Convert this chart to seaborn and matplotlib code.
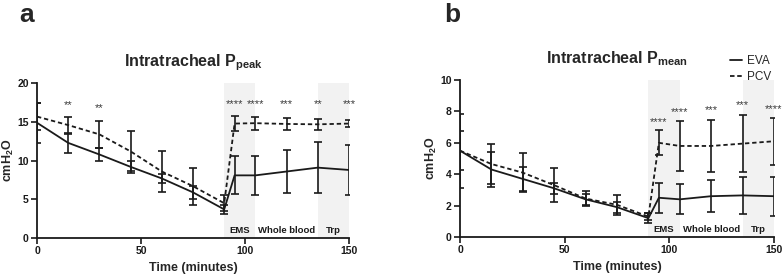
import matplotlib
matplotlib.use("Agg")
import matplotlib.pyplot as plt
import numpy as np
import pandas as pd
import seaborn as sns

# === data ===
time_min = [0, 15, 30, 45, 60, 75, 90, 95, 105, 120, 135, 150]

eva_peak = [14.9, 12.3, 10.8, 9.2, 7.7, 5.9, 3.7, 8.1, 8.1, 8.6, 9.1, 8.8]
eva_peak_sd = [2.6, 1.3, 0.85, 0.75, 0.6, 0.8, 0.6, 2.45, 2.5, 2.75, 3.3, 3.25]
pcv_peak = [15.7, 14.6, 13.4, 11.2, 8.6, 6.7, 4.5, 14.8, 14.85, 14.75, 14.7, 14.8]
pcv_peak_sd = [1.75, 1.1, 1.7, 2.6, 2.6, 2.4, 1.05, 0.95, 0.85, 0.8, 0.7, 0.5]

eva_mean = [5.5, 4.3, 3.7, 3.1, 2.4, 1.9, 1.2, 2.5, 2.4, 2.6, 2.65, 2.6]
eva_mean_sd = [2.35, 1.1, 0.75, 0.35, 0.35, 0.35, 0.3, 0.95, 0.95, 1.0, 1.2, 1.25]
pcv_mean = [5.5, 4.65, 4.1, 3.3, 2.45, 2.05, 1.3, 6.0, 5.8, 5.8, 5.95, 6.1]
pcv_mean_sd = [1.25, 1.3, 1.25, 1.1, 0.5, 0.65, 0.2, 0.8, 1.6, 1.65, 1.8, 1.5]

# significance marks: time, y (baseline), text
stars_peak_t = [15, 30, 95, 105, 120, 135, 150]
stars_peak_y = [16.75, 16.35, 16.9, 16.9, 16.9, 16.9, 16.9]
stars_peak_txt = ['**', '**', '****', '****', '***', '**', '***']

stars_mean_t = [95, 105, 120, 135, 150]
stars_mean_y = [7.1, 7.75, 7.9, 8.2, 7.95]
stars_mean_txt = ['****', '****', '***', '***', '****']

phase_labels = ['EMS', 'Whole blood', 'Trp']
phase_label_x = [97.5, 120, 142.5]
shaded_spans = [(90, 105), (135, 150)]

# === style ===
sns.set_theme(style="ticks")
plt.rcParams['font.family'] = ['Liberation Sans', 'DejaVu Sans']
plt.rcParams['mathtext.fontset'] = 'custom'
plt.rcParams['mathtext.rm'] = 'Liberation Sans'
plt.rcParams['mathtext.bf'] = 'Liberation Sans:bold'

ink = '#1a1a1a'
fig = plt.figure(figsize=(7.83, 2.76), dpi=100)
ax_a = fig.add_axes([0.0473, 0.1377, 0.3984, 0.5603])
ax_b = fig.add_axes([0.5875, 0.1413, 0.4010, 0.5687])


def draw_panel(ax, eva, eva_sd, pcv, pcv_sd, ymax, yticks, st_t, st_y, st_txt, label_y, title):
    df = pd.DataFrame({
        'Time': time_min * 2,
        'Value': eva + pcv,
        'Group': ['EVA'] * len(time_min) + ['PCV'] * len(time_min),
    })
    for x0, x1 in shaded_spans:
        ax.axvspan(x0, x1, ymin=0, ymax=1, color='#f2f2f2', lw=0, zorder=0)

    sns.lineplot(data=df, x='Time', y='Value', style='Group',
                 dashes={'EVA': '', 'PCV': (2.4, 1.6)}, color=ink,
                 linewidth=1.3, ax=ax, legend=False, zorder=3)
    for vals, sd in [(eva, eva_sd), (pcv, pcv_sd)]:
        ax.errorbar(time_min, vals, yerr=sd, fmt='none', ecolor=ink,
                    elinewidth=1.2, capsize=3, capthick=1.2, zorder=4)

    # asterisks, baseline placed so the glyphs sit where the reference shows them
    for t, y, s in zip(st_t, st_y, st_txt):
        ax.text(t, y, s, ha='center', va='baseline', fontsize=8, color='#3a3a3a')
    for x, s in zip(phase_label_x, phase_labels):
        ax.text(x, label_y, s, ha='center', va='center', fontsize=6.8,
                fontweight='bold', color=ink)

    ax.set_xlim(0, 150)
    ax.set_ylim(0, ymax)
    ax.set_xticks([0, 50, 100, 150])
    ax.set_yticks(yticks)
    ax.set_xlabel('Time (minutes)', fontsize=9, fontweight='bold', labelpad=4)
    ax.set_ylabel('cmH$_\\mathbf{2}$O', fontsize=9, fontweight='bold', labelpad=1)
    ax.set_title(title, fontsize=11.5, fontweight='bold', pad=12)
    ax.margins(0)
    ax.tick_params(axis='both', direction='out', length=4, width=1.2,
                   labelsize=7.5, color=ink, labelcolor=ink, pad=2)
    for lab in ax.get_xticklabels() + ax.get_yticklabels():
        lab.set_fontweight('bold')
    sns.despine(ax=ax)
    for side in ['left', 'bottom']:
        ax.spines[side].set_linewidth(1.3)
        ax.spines[side].set_color(ink)


draw_panel(ax_a, eva_peak, eva_peak_sd, pcv_peak, pcv_peak_sd, 20, [0, 5, 10, 15, 20],
           stars_peak_t, stars_peak_y, stars_peak_txt, 1.0,
           'Intratracheal P$_\\mathbf{peak}$')
draw_panel(ax_b, eva_mean, eva_mean_sd, pcv_mean, pcv_mean_sd, 10, [0, 2, 4, 6, 8, 10],
           stars_mean_t, stars_mean_y, stars_mean_txt, 0.5,
           'Intratracheal P$_\\mathbf{mean}$')

# legend (top right, outside the axes)
h_eva, = ax_b.plot([], [], color=ink, lw=1.3, ls='-')
h_pcv, = ax_b.plot([], [], color=ink, lw=1.3, ls=(0, (2.5, 1.5)))
fig.legend([h_eva, h_pcv], ['EVA', 'PCV'], loc='upper left',
           bbox_to_anchor=(0.932, 0.80), frameon=False, fontsize=8.5,
           handlelength=1.0, handletextpad=0.5, labelspacing=0.3,
           borderpad=0, borderaxespad=0)

# panel letters
fig.text(0.025, 0.945, 'a', fontsize=19, fontweight='bold', va='center')
fig.text(0.567, 0.945, 'b', fontsize=19, fontweight='bold', va='center')

fig.savefig('out.png', dpi=100)
plt.close(fig)
